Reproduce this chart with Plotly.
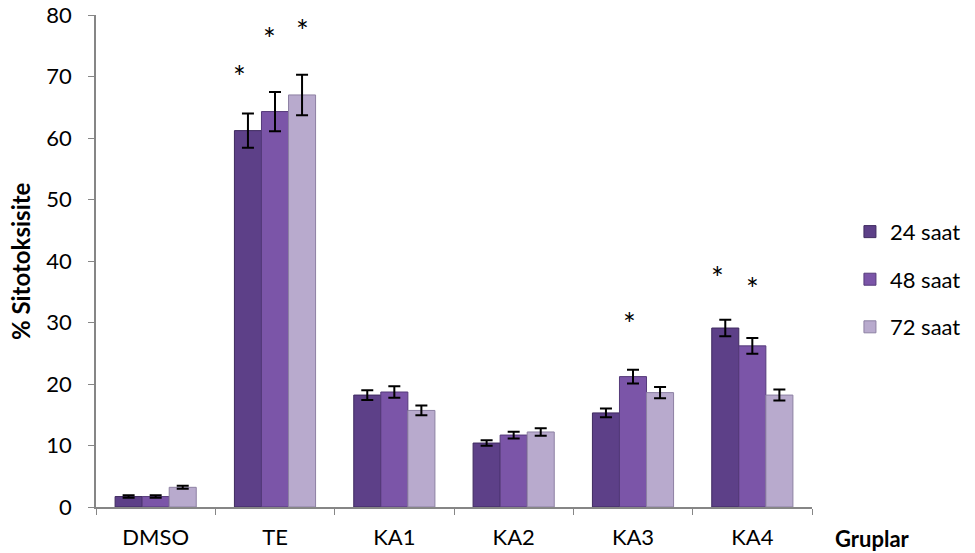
import plotly.graph_objects as go

categories = ["DMSO", "TE", "KA1", "KA2", "KA3", "KA4"]
series_names = ["24 saat", "48 saat", "72 saat"]
values_24 = [1.7, 61.2, 18.2, 10.4, 15.3, 29.1]
values_48 = [1.7, 64.3, 18.7, 11.7, 21.2, 26.2]
values_72 = [3.2, 67.0, 15.7, 12.2, 18.6, 18.2]
err_24 = [0.2, 2.8, 0.8, 0.45, 0.7, 1.35]
err_48 = [0.2, 3.2, 0.95, 0.55, 1.1, 1.3]
err_72 = [0.25, 3.3, 0.8, 0.6, 0.9, 0.9]
# significance marks: (category, series index, height of the asterisk)
stars = [("TE", 0, 70.8), ("TE", 1, 76.9), ("TE", 2, 78.2),
         ("KA3", 1, 30.6), ("KA4", 0, 38.1), ("KA4", 1, 36.2)]
star_nudge = [-9, -6, 0, -4, -8, 0]

colors = ["#5d4088", "#7b55a8", "#b8aacd"]
edge = ["#3f2a60", "#553a7a", "#8d80a3"]

fig = go.Figure()
for name, vals, errs, c, e in zip(series_names, [values_24, values_48, values_72],
                                  [err_24, err_48, err_72], colors, edge):
    fig.add_trace(go.Bar(
        x=categories, y=vals, name=name, legendgroup=name,
        marker=dict(color=c, line=dict(color=e, width=1)),
        error_y=dict(type="data", array=errs, visible=True,
                     color="black", thickness=2, width=6),
    ))

font_family = "Lato, 'Open Sans', sans-serif"
bar_w = 27
for (cat, si, h), nudge in zip(stars, star_nudge):
    fig.add_annotation(x=cat, y=h, xref="x", yref="y", text="*",
                       showarrow=False, xshift=(si - 1) * bar_w + nudge, yshift=-4,
                       font=dict(size=30, color="black", family=font_family))

fig.add_annotation(x=1.029, y=-0.065, xref="paper", yref="paper", text="<b>Gruplar</b>",
                   showarrow=False, xanchor="left", yanchor="middle",
                   font=dict(size=22, color="black", family=font_family))

fig.add_annotation(x=-0.106, y=0.5, xref="paper", yref="paper",
                   text="<b>% Sitotoksisite</b>", textangle=-90,
                   showarrow=False, xanchor="center", yanchor="middle",
                   font=dict(size=24, color="black", family=font_family))

fig.update_layout(
    width=975, height=553,
    margin=dict(l=96, r=163, t=15, b=46, autoexpand=False),
    paper_bgcolor="white", plot_bgcolor="white",
    barmode="group", bargap=0.32, bargroupgap=0,
    font=dict(family=font_family, size=22, color="black"),
    legend=dict(x=1.053, y=0.602, xanchor="left", yanchor="top",
                font=dict(size=22), tracegroupgap=16, itemwidth=30),
    showlegend=True,
)
fig.update_xaxes(
    showline=True, linecolor="#868686", linewidth=1.5,
    ticks="outside", tickson="boundaries", ticklen=6, tickcolor="#868686",
    tickfont=dict(size=22), ticklabelstandoff=10, showgrid=False, automargin=False,
)
fig.update_yaxes(
    range=[0, 80], dtick=10, showline=True, linecolor="#868686", linewidth=1.5,
    ticks="outside", ticklen=6, tickcolor="#868686", showgrid=False,
    tickfont=dict(size=22), zeroline=False, ticklabelstandoff=12, automargin=False,
)

fig.write_html("out.html", config={"displayModeBar": False},
               post_script="document.body.style.margin='0';")
